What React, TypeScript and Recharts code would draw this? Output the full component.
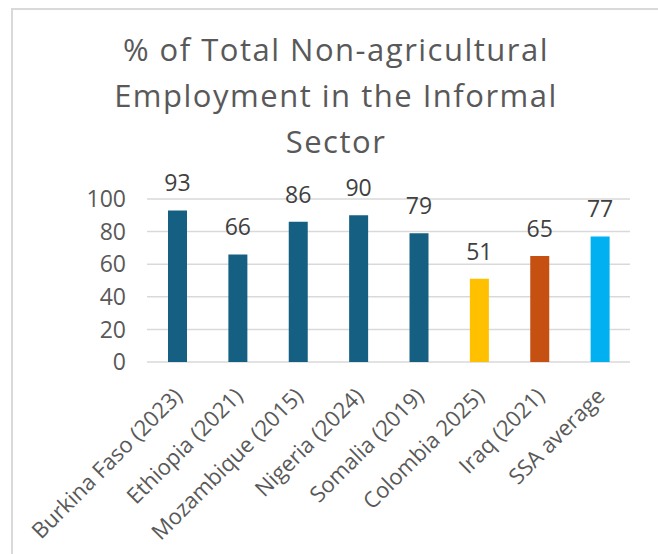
import { Bar, BarChart, CartesianGrid, Cell, LabelList, XAxis, YAxis } from 'recharts';

const countries = [
  'Burkina Faso (2023)',
  'Ethiopia (2021)',
  'Mozambique (2015)',
  'Nigeria (2024)',
  'Somalia (2019)',
  'Colombia 2025)',
  'Iraq (2021)',
  'SSA average',
];
const informalShare = [93, 66, 86, 90, 79, 51, 65, 77];
const barColors = ['#156082', '#156082', '#156082', '#156082', '#156082', '#FFC000', '#C55012', '#00B0F0'];
const yTicks = [0, 20, 40, 60, 80, 100];
const titleLines = ['% of Total Non-agricultural', 'Employment in the Informal', 'Sector'];

const FONT = '"Open Sans", Arial, sans-serif';

const chartData = countries.map((name, i) => ({ name, value: informalShare[i], color: barColors[i] }));

function CountryTick({ x, y, payload }: any) {
  return (
    <text
      transform={`translate(${x + 1},${y + 30}) rotate(-45)`}
      textAnchor="end"
      dy="0.35em"
      fill="#595959"
      fontSize={22}
      fontFamily={FONT}
    >
      {payload.value}
    </text>
  );
}

export default function App() {
  return (
    <div style={{ position: 'fixed', left: 0, top: 0, width: 658, height: 554, overflow: 'hidden', background: '#fff' }}>
      <div
        style={{
          position: 'absolute',
          left: 11,
          top: 8,
          width: 700,
          height: 600,
          borderTop: '2px solid #d9d9d9',
          borderLeft: '2px solid #d9d9d9',
        }}
      />
      <div style={{ position: 'absolute', left: 0, top: 0 }}>
        <BarChart width={658} height={554} data={chartData} margin={{ top: 199, right: 28, left: 0, bottom: 0 }}>
          <CartesianGrid vertical={false} stroke="#d9d9d9" strokeWidth={1.5} />
          <XAxis
            dataKey="name"
            interval={0}
            height={192}
            axisLine={false}
            tickLine={false}
            tickSize={0}
            tickMargin={0}
            tick={<CountryTick />}
          />
          <YAxis
            width={147}
            domain={[0, 100]}
            ticks={yTicks}
            axisLine={false}
            tickLine={false}
            tickSize={0}
            tickMargin={21}
            tick={{ fill: '#595959', fontSize: 23, fontFamily: FONT }}
          />
          <Bar dataKey="value" barSize={19} isAnimationActive={false}>
            {chartData.map((d) => (
              <Cell key={d.name} fill={d.color} />
            ))}
            <LabelList dataKey="value" position="top" offset={19} fill="#404040" fontSize={23} fontFamily={FONT} />
          </Bar>
        </BarChart>
      </div>
      <div
        style={{
          position: 'absolute',
          left: 0,
          top: 26,
          width: 672,
          textAlign: 'center',
          fontFamily: FONT,
          fontSize: 31,
          lineHeight: '46px',
          color: '#595959',
          letterSpacing: 1.5,
        }}
      >
        {titleLines.map((line) => (
          <div key={line}>{line}</div>
        ))}
      </div>
    </div>
  );
}
